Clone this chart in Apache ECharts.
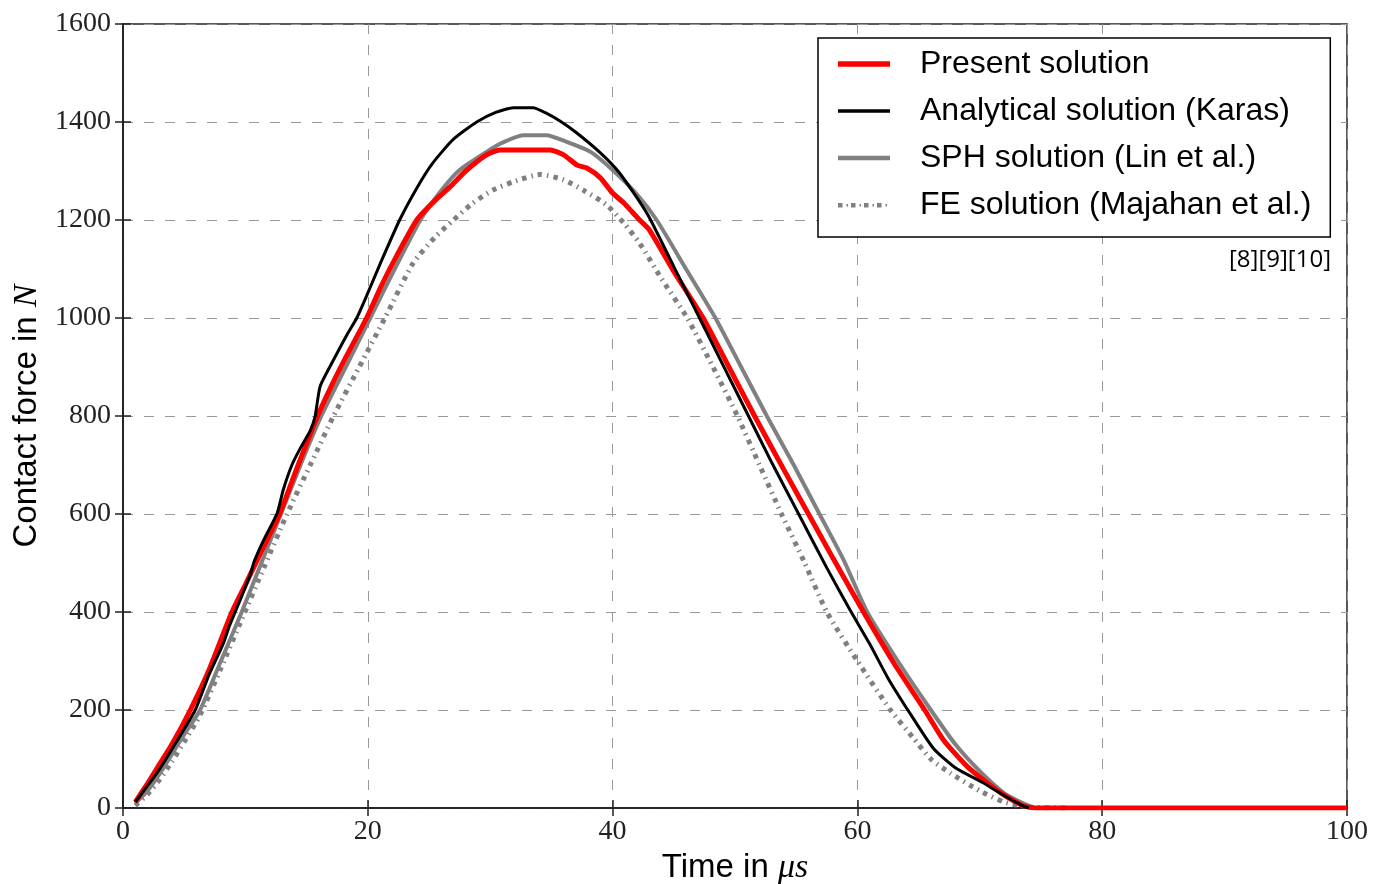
<!DOCTYPE html>
<html>
<head>
<meta charset="utf-8">
<script src="https://cdn.jsdelivr.net/npm/echarts@6/dist/echarts.min.js"></script>
<style>
html,body{margin:0;padding:0;background:#fff;}
#chart{width:1377px;height:884px;}
</style>
</head>
<body>
<div id="chart"></div>
<script>
// ---- data (time in µs, contact force in N) ----
const seriesNames = ['Present solution', 'Analytical solution (Karas)', 'SPH solution (Lin et al.)', 'FE solution (Majahan et al.)'];
const xTicks = [0, 20, 40, 60, 80, 100];
const yTicks = [0, 200, 400, 600, 800, 1000, 1200, 1400, 1600];

const presentT = [1, 2, 3, 4, 5.5, 7, 8.9, 10, 11, 12.8, 14, 15.9, 17, 18, 19.9, 21, 22, 24, 25.5, 26.7, 28, 29.7, 30.8, 32, 34.9, 36, 37.1, 37.9, 39, 40, 40.9, 42.2, 43, 45, 47.4, 49.5, 51.6, 54, 56, 58, 60.5, 63, 65.5, 67, 69, 71.7, 73.5, 74.5, 80, 90, 100];
const presentF = [12, 50, 90, 130, 200, 280, 400, 456, 508, 600, 680, 800, 860, 910, 1000, 1060, 1110, 1200, 1240, 1267, 1300, 1333, 1343, 1343, 1343, 1333, 1312, 1306, 1286, 1255, 1235, 1200, 1180, 1095, 1000, 900, 800, 690, 600, 510, 400, 295, 200, 140, 84, 31, 5, 0, 0, 0, 0];

const analyticT = [1, 2, 3, 4, 5.9, 7, 8.2, 8.7, 9.5, 10.4, 10.7, 11.5, 12.6, 13.1, 13.8, 14.5, 15.3, 15.7, 16.1, 17, 18.3, 19.1, 19.9, 21, 22.6, 24, 25.3, 27, 28.9, 30.5, 31.9, 33.5, 34.5, 35.7, 37, 39, 40.5, 42, 43, 45, 47.1, 49, 51.1, 53, 55.2, 57.5, 59.4, 61, 62.5, 64.3, 66.2, 68, 70.3, 72, 73.5, 74];
const analyticF = [12, 45, 80, 120, 200, 270, 336, 372, 420, 476, 502, 547, 602, 650, 700, 735, 770, 800, 860, 905, 966, 1000, 1045, 1110, 1200, 1265, 1316, 1365, 1400, 1420, 1429, 1429, 1419, 1402, 1379, 1337, 1298, 1245, 1205, 1105, 1000, 905, 800, 705, 600, 490, 404, 335, 265, 193, 122, 82, 51, 25, 5, 0];

const sphT = [1, 2, 3, 4, 5, 6.3, 8, 9.7, 11.3, 12.9, 14.5, 16.2, 18.2, 20.2, 22.2, 24.3, 26, 27.5, 29.7, 31, 32.7, 34.6, 36.3, 38.2, 40, 42, 43.6, 46, 48.4, 50.5, 52.6, 54.8, 56.9, 58.9, 60.8, 63.3, 66, 68, 70, 72, 73.5, 74.5];
const sphF = [10, 35, 70, 110, 150, 200, 300, 400, 500, 600, 700, 800, 900, 1000, 1100, 1200, 1260, 1302, 1339, 1358, 1373, 1373, 1359, 1339, 1302, 1252, 1200, 1100, 1000, 900, 800, 700, 600, 505, 400, 300, 200, 130, 75, 30, 10, 0];

const feT = [1, 2, 3, 4, 5, 6.3, 8, 9.7, 11.5, 13.4, 15.3, 17.2, 19.3, 21.4, 23.7, 25.5, 27, 28.5, 30.2, 31.9, 34.1, 36, 37.6, 39.5, 40.9, 42.2, 44, 46.1, 48.2, 50.2, 52, 53.8, 55.7, 57.5, 60, 62.7, 64.5, 66, 67.6, 70, 72, 74, 77];
const feF = [5, 28, 58, 95, 135, 190, 285, 385, 490, 600, 700, 800, 900, 1000, 1112, 1165, 1200, 1233, 1261, 1278, 1293, 1282, 1261, 1231, 1194, 1153, 1080, 1000, 900, 800, 700, 600, 500, 400, 300, 200, 145, 100, 71, 35, 12, 2, 0];

const zip = (t, f) => t.map((v, i) => [v, f[i]]);

// legend icons: 52 x 14 bounding box (corner anchors are zero-area)
const box = 'M0,0 L0,0 Z M52,14 L52,14 Z ';
const iconBar = (h) => 'path://' + box + 'M0,' + (7 - h / 2) + ' L52,' + (7 - h / 2) + ' L52,' + (7 + h / 2) + ' L0,' + (7 + h / 2) + ' Z';
let dots = '';
[0, 13, 26, 39].forEach(x => { dots += 'M' + x + ',5 L' + (x + 4.5) + ',5 L' + (x + 4.5) + ',9.5 L' + x + ',9.5 Z '; });
[8.5, 21.5, 34.5, 47.5].forEach(x => { dots += 'M' + x + ',6 L' + (x + 1.5) + ',6 L' + (x + 1.5) + ',8.5 L' + x + ',8.5 Z '; });
const iconDots = 'path://' + box + dots;

const chart = echarts.init(document.getElementById('chart'), null, {renderer: 'canvas'});

const frameColor = '#222';
const tickStyle = {show: true, inside: true, length: 8, lineStyle: {color: frameColor, width: 1.5}};
const gridLine = {show: true, lineStyle: {color: '#999', width: 1, type: [10, 11]}};
const serifLabel = {fontFamily: 'Liberation Serif', fontSize: 28, color: '#222', formatter: v => String(v)};
const richName = {a: {fontFamily: 'Liberation Sans', fontSize: 33, color: '#000'}, b: {fontFamily: 'Liberation Serif', fontStyle: 'italic', fontSize: 34, color: '#000'}};

chart.setOption({
  animation: false,
  backgroundColor: '#fff',
  grid: {left: 123, right: 30, top: 24, bottom: 76, show: true, borderColor: frameColor, borderWidth: 1.5, containLabel: false, outerBoundsMode: 'none'},
  legend: {
    data: [
      {name: seriesNames[0], icon: iconBar(5.5), itemStyle: {color: '#ff0000'}},
      {name: seriesNames[1], icon: iconBar(3.5), itemStyle: {color: '#000000'}},
      {name: seriesNames[2], icon: iconBar(4.5), itemStyle: {color: '#808080'}},
      {name: seriesNames[3], icon: iconDots, itemStyle: {color: '#808080'}}
    ],
    orient: 'vertical',
    left: 818, top: 38,
    padding: [8, 19, 14, 20],
    backgroundColor: '#fff',
    borderColor: '#000', borderWidth: 1.5, borderRadius: 0,
    itemWidth: 52, itemHeight: 14, itemGap: 11,
    textStyle: {fontFamily: 'Liberation Sans', fontSize: 32, color: '#000', lineHeight: 36, padding: [0, 0, 0, 25]},
    selectedMode: false
  },
  xAxis: [
    {type: 'value', min: 0, max: 100, interval: 20, position: 'bottom',
     axisLine: {show: true, onZero: false, lineStyle: {color: frameColor, width: 1.5}},
     axisTick: tickStyle, splitLine: gridLine,
     axisLabel: Object.assign({margin: 10}, serifLabel),
     name: '{a|Time in }{b|μs}', nameLocation: 'middle', nameGap: 42,
     nameTextStyle: {rich: richName}},
    {type: 'value', min: 0, max: 100, interval: 20, position: 'top',
     axisLine: {show: true, lineStyle: {color: frameColor, width: 1.5}},
     axisTick: tickStyle, splitLine: {show: false}, axisLabel: {show: false}}
  ],
  yAxis: [
    {type: 'value', min: 0, max: 1600, interval: 200, position: 'left',
     axisLine: {show: true, onZero: false, lineStyle: {color: frameColor, width: 1.5}},
     axisTick: tickStyle, splitLine: gridLine,
     axisLabel: Object.assign({margin: 12}, serifLabel),
     name: '{a|Contact force in }{b|N}', nameLocation: 'middle', nameGap: 76, nameRotate: 90,
     nameTextStyle: {rich: richName}},
    {type: 'value', min: 0, max: 1600, interval: 200, position: 'right',
     axisLine: {show: true, lineStyle: {color: frameColor, width: 1.5}},
     axisTick: tickStyle, splitLine: {show: false}, axisLabel: {show: false}}
  ],
  graphic: [
    {type: 'text', right: 1377 - 1331, top: 248, style: {text: '[8][9][10]', fontFamily: 'Open Sans', fontSize: 24, fill: '#000'}}
  ],
  series: [
    {name: seriesNames[2], type: 'line', data: zip(sphT, sphF), showSymbol: false, symbol: 'none', smooth: 0.2,
     lineStyle: {color: '#808080', width: 4}, itemStyle: {color: '#808080'}, z: 2},
    {name: seriesNames[3], type: 'line', data: zip(feT, feF), showSymbol: false, symbol: 'none', smooth: 0.2,
     lineStyle: {color: '#808080', width: 5, type: [4.5, 5, 1.5, 5]}, itemStyle: {color: '#808080'}, z: 3},
    {name: seriesNames[0], type: 'line', data: zip(presentT, presentF), showSymbol: false, symbol: 'none', smooth: 0.2,
     lineStyle: {color: '#ff0000', width: 5}, itemStyle: {color: '#ff0000'}, z: 4},
    {name: seriesNames[1], type: 'line', data: zip(analyticT, analyticF), showSymbol: false, symbol: 'none', smooth: 0.2,
     lineStyle: {color: '#000000', width: 3}, itemStyle: {color: '#000000'}, z: 5}
  ]
});
</script>
</body>
</html>
